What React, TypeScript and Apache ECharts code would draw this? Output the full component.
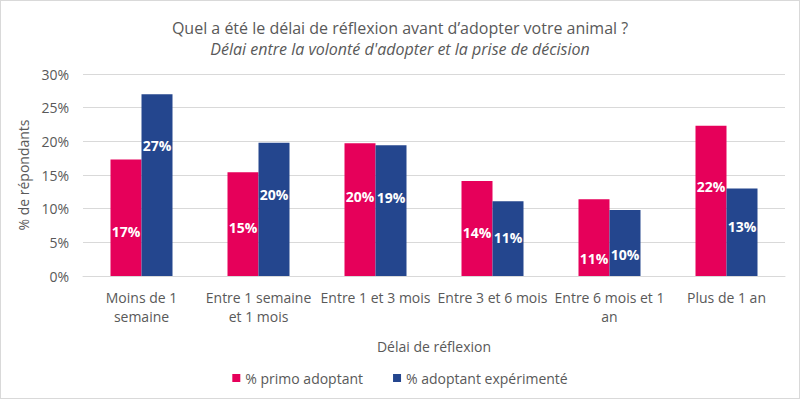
import React, { useEffect, useRef } from "react";
import * as echarts from "echarts";

const categories = [
  "Moins de 1\nsemaine",
  "Entre 1 semaine\net 1 mois",
  "Entre 1 et 3 mois",
  "Entre 3 et 6 mois",
  "Entre 6 mois et 1\nan",
  "Plus de 1 an",
];
const primo = [17.3, 15.4, 19.7, 14.1, 11.4, 22.3];
const experimente = [27.0, 19.8, 19.4, 11.1, 9.8, 13.0];
const seriesNames = ["% primo adoptant", "% adoptant expérimenté"];
const yTicks = [0, 5, 10, 15, 20, 25, 30];

// label vertical shifts (styling) relative to bar centre
const primoShift = [14, 3, -13, 4, 21, -14];
const expShift = [-40, -15, -13, -1, 11, -6];

const FONT = "'Open Sans', 'Noto Sans', sans-serif";
const GRAY = "#595959";

export default function App() {
  const ref = useRef<HTMLDivElement>(null);
  useEffect(() => {
    document.body.style.margin = "0";
    const chart = echarts.init(ref.current!, null, { renderer: "svg" });
    const mk = (vals: number[], shifts: number[]) =>
      vals.map((v, i) => ({
        value: v,
        label: { offset: [0, shifts[i]] },
      }));
    const labelStyle = {
      show: true,
      position: "inside",
      color: "#ffffff",
      fontWeight: "bold",
      fontSize: 14,
      fontFamily: FONT,
      formatter: (p: any) => Math.round(p.value) + "%",
    };
    chart.setOption({
      animation: false,
      textStyle: { fontFamily: FONT },
      title: [
        {
          text: "Quel a été le délai de réflexion avant d’adopter votre animal ?",
          left: "center",
          top: 14,
          textStyle: { fontSize: 16, fontWeight: "normal", color: GRAY, fontFamily: FONT },
        },
        {
          text: "Délai entre la volonté d'adopter et la prise de décision",
          left: "center",
          top: 35,
          textStyle: { fontSize: 16, fontWeight: "normal", fontStyle: "italic", color: GRAY, fontFamily: FONT },
        },
      ],
      legend: {
        bottom: 8,
        left: "center",
        itemWidth: 8,
        itemHeight: 8,
        itemGap: 30,
        icon: "rect",
        textStyle: { fontSize: 14, color: GRAY, fontFamily: FONT },
        data: seriesNames,
      },
      grid: { left: 82, right: 14, top: 73, bottom: 122 },
      xAxis: {
        type: "category",
        data: categories,
        name: "Délai de réflexion",
        nameLocation: "middle",
        nameGap: 63,
        nameTextStyle: { fontSize: 14, color: GRAY, fontFamily: FONT },
        axisTick: { show: false },
        axisLine: { lineStyle: { color: "#d9d9d9" } },
        axisLabel: { fontSize: 14, color: GRAY, lineHeight: 19, margin: 12, interval: 0, fontFamily: FONT },
      },
      yAxis: {
        type: "value",
        min: 0,
        max: 30,
        interval: 5,
        name: "% de répondants",
        nameLocation: "middle",
        nameGap: 52,
        nameRotate: 90,
        nameTextStyle: { fontSize: 14, color: GRAY, fontFamily: FONT },
        axisLabel: {
          fontSize: 14,
          color: GRAY,
          margin: 14,
          fontFamily: FONT,
          formatter: (v: number) => (yTicks.includes(v) ? v + "%" : ""),
        },
        splitLine: { lineStyle: { color: "#d9d9d9" } },
      },
      series: [
        {
          name: seriesNames[0],
          type: "bar",
          data: mk(primo, primoShift),
          barWidth: 31,
          barGap: "0%",
          itemStyle: { color: "#E6005A" },
          label: labelStyle,
        },
        {
          name: seriesNames[1],
          type: "bar",
          data: mk(experimente, expShift),
          barWidth: 31,
          barGap: "0%",
          itemStyle: { color: "#24468E" },
          label: labelStyle,
        },
      ],
    });
    return () => chart.dispose();
  }, []);
  return (
    <div
      ref={ref}
      style={{ width: 800, height: 399, boxSizing: "border-box", border: "1px solid #d9d9d9", background: "#fff" }}
    />
  );
}
